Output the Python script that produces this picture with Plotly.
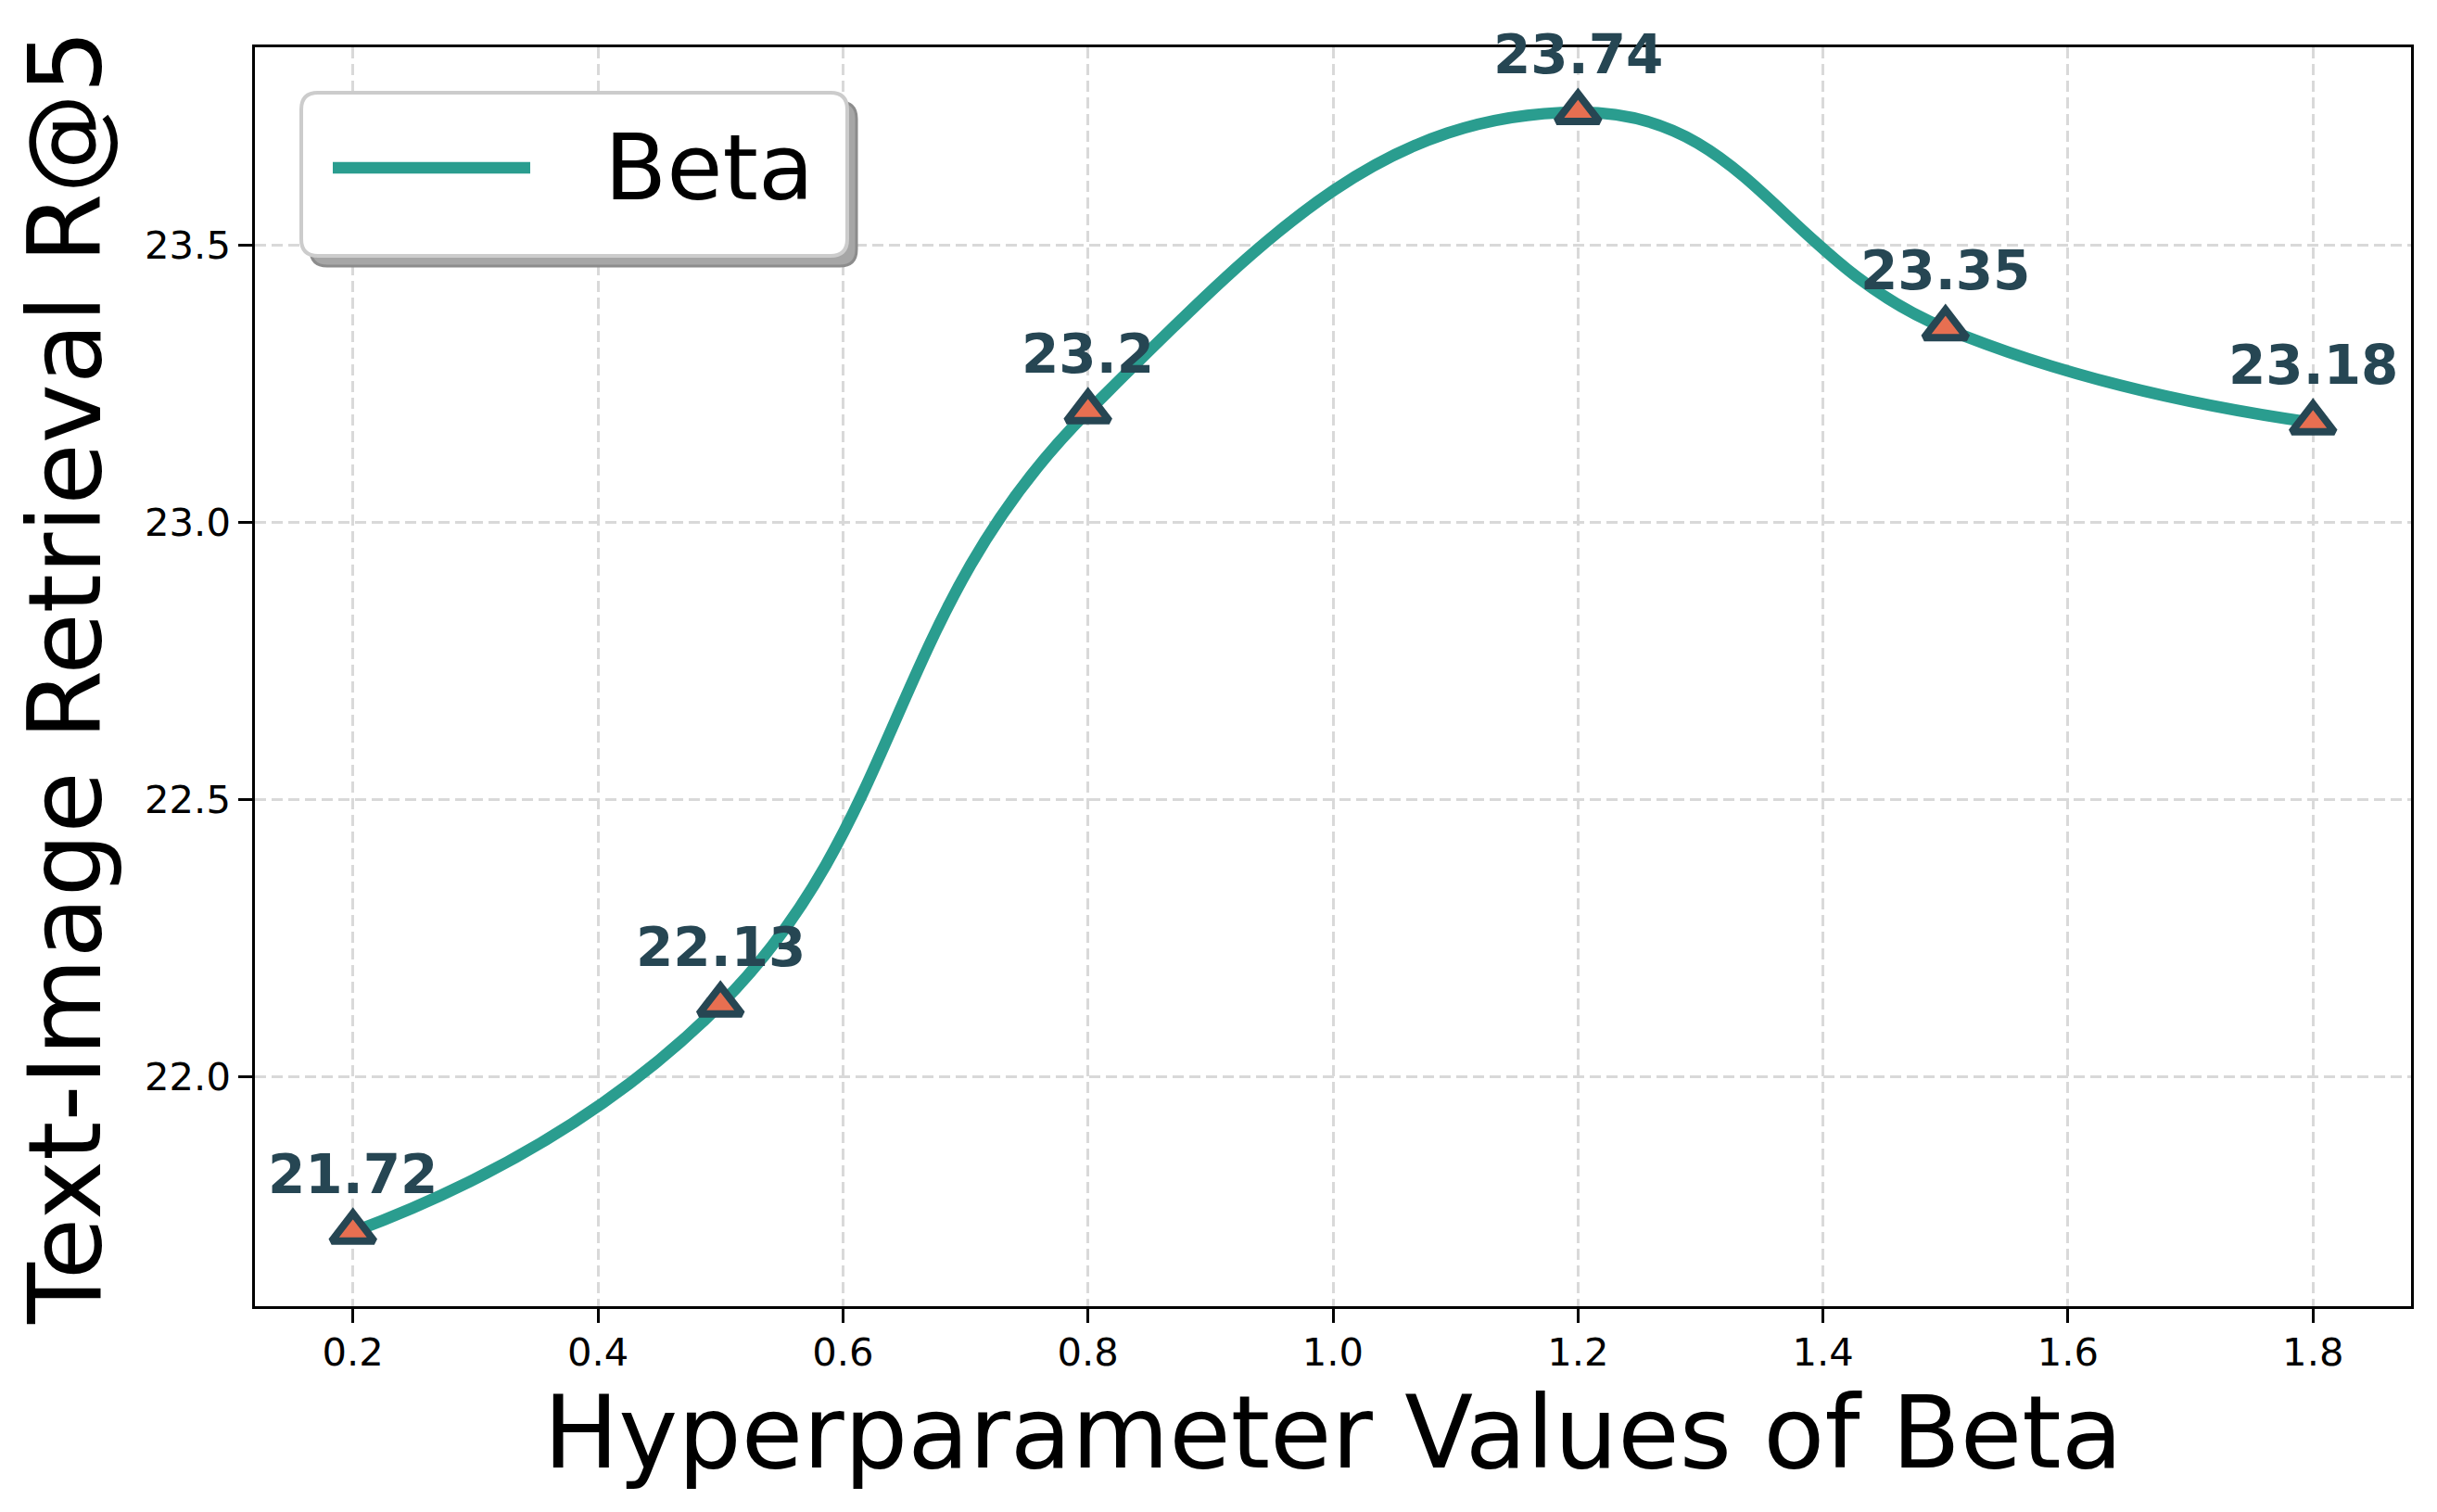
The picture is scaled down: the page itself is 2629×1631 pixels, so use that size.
import plotly.graph_objects as go

# ---- data ----
beta_values = [0.2, 0.5, 0.8, 1.2, 1.5, 1.8]
recall_at5 = [21.72, 22.13, 23.2, 23.74, 23.35, 23.18]
point_labels = [str(v) for v in recall_at5]
series_name = "Beta"
x_tick_vals = [0.2, 0.4, 0.6, 0.8, 1.0, 1.2, 1.4, 1.6, 1.8]
y_tick_vals = [22.0, 22.5, 23.0, 23.5]

# ---- style ----
OFF = 8  # default page body margin
W, H = 2629 - 2 * OFF, 1631 - 2 * OFF
ML, MT = 275 - OFF, 51 - OFF
PW, PH = 2326, 1358
MR, MB = W - ML - PW, H - MT - PH
FONT = "DejaVu Sans"
LINE_C = "#2a9d8f"
MARK_C = "#e76f51"
DARK_C = "#264653"


def px(xp):
    return (xp - OFF - ML) / PW


def py(yp):
    return (MT + PH - (yp - OFF)) / PH


def rrect(x0, y0, x1, y1, r):
    pts = [
        ("M", [(x0 + r, y0)]),
        ("L", [(x1 - r, y0)]),
        ("Q", [(x1, y0), (x1, y0 + r)]),
        ("L", [(x1, y1 - r)]),
        ("Q", [(x1, y1), (x1 - r, y1)]),
        ("L", [(x0 + r, y1)]),
        ("Q", [(x0, y1), (x0, y1 - r)]),
        ("L", [(x0, y0 + r)]),
        ("Q", [(x0, y0), (x0 + r, y0)]),
    ]
    s = ""
    for cmd, ps in pts:
        s += cmd + " ".join(f"{px(a):.5f},{py(b):.5f}" for a, b in ps) + " "
    return s + "Z"


fig = go.Figure()
fig.add_trace(
    go.Scatter(
        x=beta_values,
        y=recall_at5,
        mode="lines+markers",
        name=series_name,
        line=dict(color=LINE_C, width=12.5, shape="spline", smoothing=1.3),
        marker=dict(
            symbol="triangle-up",
            size=40,
            color=MARK_C,
            line=dict(color=DARK_C, width=8),
        ),
        showlegend=False,
    )
)

annotations = []
for xv, yv, lab in zip(beta_values, recall_at5, point_labels):
    annotations.append(
        dict(
            x=xv, y=yv, xref="x", yref="y", text=f"<b>{lab}</b>",
            showarrow=False, yanchor="bottom", yshift=26,
            font=dict(family=FONT, size=58, color=DARK_C),
        )
    )

# manual legend (matplotlib-style fancy box with shadow)
shapes = []
shapes.append(dict(type="path", xref="paper", yref="paper", layer="above",
                   path=rrect(335, 110, 924, 287, 18),
                   fillcolor="#a6a6a6", line=dict(color="#8c8c8c", width=3)))
shapes.append(dict(type="path", xref="paper", yref="paper", layer="above",
                   path=rrect(325, 100, 914, 276, 18),
                   fillcolor="white", line=dict(color="#cccccc", width=4)))
shapes.append(dict(type="line", xref="paper", yref="paper", layer="above",
                   x0=px(359), x1=px(572), y0=py(181), y1=py(181),
                   line=dict(color=LINE_C, width=12.5)))
annotations.append(dict(x=px(650), y=py(181), xref="paper", yref="paper",
                        text=series_name, showarrow=False, xanchor="left",
                        yanchor="middle",
                        font=dict(family=FONT, size=98, color="black")))

axis_common = dict(
    showline=True, linecolor="black", linewidth=3.3, mirror=True,
    ticks="outside", ticklen=14.6, tickwidth=3.3, tickcolor="black",
    showgrid=True, gridcolor="#d9d9d9", gridwidth=3, griddash="12px,6px",
    zeroline=False, tickfont=dict(family=FONT, size=41.7, color="black"),
    tickformat=".1f",
)

fig.update_layout(
    width=W, height=H,
    margin=dict(l=ML, r=MR, t=MT, b=MB, autoexpand=False),
    paper_bgcolor="white", plot_bgcolor="white",
    font=dict(family=FONT, color="black"),
    xaxis=dict(range=[0.12, 1.88], tickvals=x_tick_vals, ticklabelstandoff=-4,
               title=dict(text="Hyperparameter Values of Beta",
                          font=dict(family=FONT, size=108), standoff=2),
               **axis_common),
    yaxis=dict(range=[21.586, 23.857], tickvals=y_tick_vals,
               title=dict(text="Text-Image Retrieval R@5",
                          font=dict(family=FONT, size=108), standoff=15),
               **axis_common),
    annotations=annotations,
    shapes=shapes,
)

fig.write_html("out.html")
